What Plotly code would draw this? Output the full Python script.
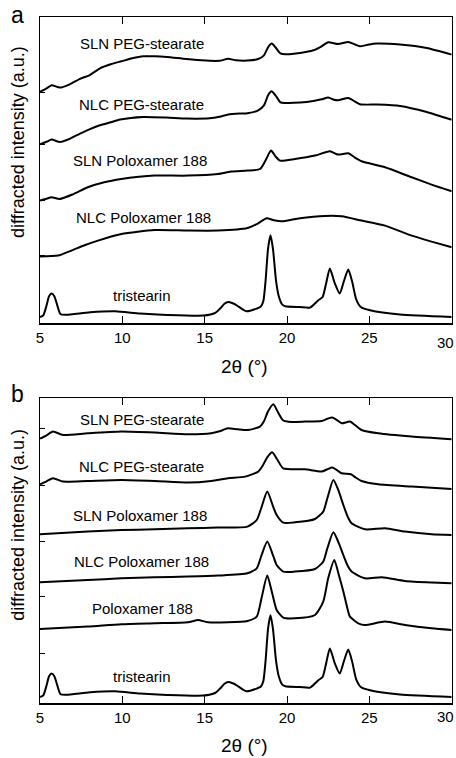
import plotly.graph_objects as go

# ---------------- data ----------------
# Panel a
a_sln_peg_x = [5, 5.4, 5.71, 6.2, 6.8, 7.43, 8.0, 8.64, 9.3, 9.94, 10.6, 11.27, 12.0, 12.7, 13.9, 15.3, 15.9, 16.43, 16.9, 17.6, 18.25, 18.6, 18.85, 19.07, 19.3, 19.6, 19.9, 20.79, 21.6, 22.1, 22.5, 23.1, 23.72, 24.1, 24.43, 24.9, 25.44, 26.86, 28.48, 30]
a_sln_peg_y = [231.5, 235, 238, 235.7, 239, 244.5, 248, 255, 259, 262, 265, 267, 267, 266.3, 264.3, 262.5, 262.5, 264.5, 263, 262.7, 264.3, 268, 276, 279.7, 276, 270, 269, 270.3, 273, 277, 281, 279.3, 281.3, 279, 277, 278.5, 279.7, 278.7, 275.3, 268.7]

a_nlc_peg_x = [5, 5.4, 5.71, 6.2, 6.8, 7.43, 8.0, 8.64, 9.3, 9.86, 11.27, 12.7, 13.9, 15.3, 15.9, 16.43, 17.14, 17.6, 18.25, 18.6, 18.85, 19.05, 19.3, 19.6, 19.9, 20.79, 21.6, 22.1, 22.5, 22.85, 23.1, 23.72, 24.1, 24.43, 25.44, 26.86, 28.48, 30]
a_nlc_peg_y = [179, 181.5, 183.7, 181.3, 184.5, 189.7, 194, 198, 201, 203.7, 206.3, 205.7, 204.7, 205, 206.5, 208.7, 209.7, 210, 213, 218, 228, 232, 228, 221, 220.3, 220.7, 222.3, 224, 225.7, 223.5, 223, 225.3, 222, 219, 218.7, 217.3, 211.3, 203.5]

a_sln_pol_x = [5, 5.4, 5.69, 6.2, 7.0, 7.9, 8.9, 9.94, 11.0, 11.96, 13.98, 15.8, 16.6, 17.6, 18.36, 18.7, 19.03, 19.3, 19.57, 20.48, 21.7, 22.6, 23.1, 23.72, 24.1, 24.53, 25.95, 27.57, 28.78, 30]
a_sln_pol_y = [122.7, 124.5, 126, 124.3, 129, 136, 141, 144.3, 146.5, 147.7, 147.7, 149.3, 151.7, 152.7, 154.3, 163, 172.7, 167, 162.7, 164.3, 167.7, 172, 168.7, 170, 166, 162, 156, 146, 138.7, 132]

a_nlc_pol_x = [5, 6.1, 6.9, 7.7, 8.52, 9.94, 11.96, 13.98, 15.8, 17.6, 18.25, 18.76, 19.2, 19.67, 20.68, 22.3, 23.32, 24.53, 25.95, 27.57, 28.78, 30]
a_nlc_pol_y = [66.7, 67.7, 72.7, 78, 82.7, 89.3, 93.3, 92.7, 92.7, 95.3, 100, 105, 103, 102, 104.7, 107.3, 107, 102.7, 97.7, 87.7, 81.7, 76]

# tristearin (same pattern in both panels)
tri_x = [5, 5.2, 5.4, 5.55, 5.71, 5.87, 6.05, 6.25, 6.6, 8.04, 9.55, 11.07, 12.7, 14.92, 15.63, 15.95, 16.2, 16.43, 16.7, 16.94, 17.3, 17.55, 18.16, 18.4, 18.56, 18.7, 18.85, 19.0, 19.15, 19.33, 19.5, 19.7, 19.9, 20.79, 21.4, 21.9, 22.16, 22.35, 22.6, 22.9, 23.2, 23.45, 23.72, 23.95, 24.2, 24.5, 25.04, 26.86, 30]
tri_y = [6.3, 8, 18, 27, 29.7, 27, 18, 9, 8.5, 11, 12, 9.7, 8.3, 7.7, 10.3, 15, 19.5, 21.3, 20, 18, 14, 12, 14.7, 16.5, 22, 43, 75, 88, 74, 43, 27, 19, 17, 16.3, 15.7, 23, 26.3, 38, 54.7, 40, 29.7, 42, 53.7, 42, 24, 16, 13, 8.7, 6.3]

# Panel b
b_sln_peg_x = [5, 5.4, 5.79, 6.4, 7.9, 9.94, 11.96, 13.98, 15.4, 15.9, 16.41, 17.0, 17.63, 18.36, 18.6, 18.85, 19.17, 19.45, 19.75, 20.1, 21.09, 22.1, 22.45, 22.75, 23.05, 23.32, 23.82, 24.15, 24.53, 25.54, 27.57, 30]
b_sln_peg_y = [264.7, 268, 271.7, 268.3, 270, 271.7, 270.7, 269, 270, 272, 275, 274, 273.3, 276.7, 282, 292, 299, 291, 283, 281.5, 281.7, 282.3, 284.5, 285.7, 283, 280, 281.7, 278, 273.3, 270, 266.7, 264]

b_nlc_peg_x = [5, 5.4, 5.79, 6.4, 7.9, 9.94, 11.96, 13.98, 15.4, 16.41, 17.45, 18.25, 18.5, 18.8, 19.1, 19.4, 19.77, 21.09, 22.1, 22.45, 22.75, 23.05, 23.32, 23.88, 24.15, 24.53, 25.54, 27.57, 30]
b_nlc_peg_y = [219, 222, 225, 221.7, 222.3, 223.3, 222.3, 220.7, 222.3, 225, 226.7, 231.7, 237, 246, 251, 244, 235, 234, 231.7, 234, 235.7, 233, 230, 229, 226, 222.3, 219, 216.7, 214.3]

b_sln_pol_x = [5, 7.9, 9.94, 11.96, 13.98, 15.8, 17.6, 18.16, 18.45, 18.8, 19.15, 19.37, 19.77, 20.48, 21.7, 22.2, 22.45, 22.81, 23.1, 23.42, 23.7, 23.92, 24.73, 25.95, 27.16, 28.78, 30]
b_sln_pol_y = [169, 171.7, 173.3, 174, 175, 175.7, 176.7, 183.3, 196, 211.7, 197, 188.3, 180.7, 181, 184.3, 191.7, 205, 223.3, 214, 198.3, 186, 180, 174, 175, 171.7, 169, 168.3]

b_nlc_pol_x = [5, 7.9, 9.94, 11.96, 13.98, 15.8, 17.6, 18.16, 18.45, 18.8, 19.15, 19.37, 19.77, 20.48, 21.7, 22.2, 22.45, 22.81, 23.1, 23.42, 23.7, 23.92, 24.73, 25.75, 27.16, 28.78, 30]
b_nlc_pol_y = [121, 123.3, 125, 126, 126.7, 127.7, 130, 135, 148, 161.7, 148, 138.3, 131.7, 131.7, 134.3, 141.7, 155, 171, 162, 148.3, 137, 131.7, 125, 126, 122.3, 120.7, 120]

b_pol_x = [5, 7.9, 9.94, 11.96, 13.98, 14.6, 15.2, 17.6, 18.16, 18.45, 18.8, 19.1, 19.37, 19.77, 20.48, 21.7, 22.2, 22.5, 22.87, 23.15, 23.42, 23.65, 23.82, 24.33, 24.73, 25.95, 27.16, 28.78, 30]
b_pol_y = [74.3, 76.7, 79, 80, 81, 83.3, 81, 82.3, 86.7, 105, 127.7, 110, 93.3, 85.7, 85, 88.3, 101.7, 125, 143.3, 128, 111.7, 96, 86.7, 80, 78.3, 81.7, 78.3, 75, 73.3]

# labels
a_labels = ["SLN PEG-stearate", "NLC PEG-stearate", "SLN Poloxamer 188", "NLC Poloxamer 188", "tristearin"]
a_label_x = [11.17, 11.17, 11.07, 11.31, 11.17]
a_label_y = [279.7, 219.0, 162.5, 105.5, 28.0]
b_labels = ["SLN PEG-stearate", "NLC PEG-stearate", "SLN Poloxamer 188", "NLC Poloxamer 188", "Poloxamer 188", "tristearin"]
b_label_x = [11.17, 11.17, 11.07, 11.17, 11.24, 11.17]
b_label_y = [283.7, 237.3, 188.0, 141.5, 94.5, 27.0]

x_ticks = [5, 10, 15, 20, 25, 30]
x_ticktext = ["5", "10", "15", "20", "25", ""]   # "30" drawn separately so it stays inside the page
a_yticks = [67.7, 122.7, 179.3, 231.0]
b_yticks = [50.0, 106.7, 161.7, 218.3, 275.0]

# ---------------- figure ----------------
W, H = 456, 758
FONT = "Liberation Sans, Arial, Helvetica, sans-serif"

def px(x):
    return x / W

def py(y):
    return 1 - y / H

fig = go.Figure()
line = dict(color="black", width=2, shape="spline", smoothing=0.6)

for xs, ys in [(a_sln_peg_x, a_sln_peg_y), (a_nlc_peg_x, a_nlc_peg_y),
               (a_sln_pol_x, a_sln_pol_y), (a_nlc_pol_x, a_nlc_pol_y),
               (tri_x, tri_y)]:
    fig.add_trace(go.Scatter(x=xs, y=ys, mode="lines", line=line,
                             xaxis="x", yaxis="y", showlegend=False, hoverinfo="skip"))

for xs, ys in [(b_sln_peg_x, b_sln_peg_y), (b_nlc_peg_x, b_nlc_peg_y),
               (b_sln_pol_x, b_sln_pol_y), (b_nlc_pol_x, b_nlc_pol_y),
               (b_pol_x, b_pol_y), (tri_x, tri_y)]:
    fig.add_trace(go.Scatter(x=xs, y=ys, mode="lines", line=line,
                             xaxis="x2", yaxis="y2", showlegend=False, hoverinfo="skip"))

xdom = [px(40), px(451.7)]
xcommon = dict(range=[5, 30], domain=xdom, showline=True, linecolor="black", linewidth=1.5,
               mirror="ticks", ticks="inside", ticklen=7, tickwidth=1, tickcolor="black",
               tickvals=x_ticks, ticktext=x_ticktext, automargin=False,
               tickfont=dict(family=FONT, size=15, color="black"),
               showgrid=False, zeroline=False, fixedrange=True)
ycommon = dict(showline=True, linecolor="black", linewidth=1.5, mirror=True,
               ticks="inside", ticklen=5, tickwidth=1, tickcolor="black", automargin=False,
               showticklabels=False, showgrid=False, zeroline=False, fixedrange=True)

fig.update_layout(
    template="none",
    width=W, height=H,
    margin=dict(l=0, r=0, t=0, b=0, pad=0),
    paper_bgcolor="white", plot_bgcolor="white",
    xaxis=dict(**xcommon, anchor="y"),
    yaxis=dict(**ycommon, range=[0, 306], domain=[py(323.3), py(17.3)], anchor="x",
               tickvals=a_yticks),
    xaxis2=dict(**xcommon, anchor="y2"),
    yaxis2=dict(**ycommon, range=[0, 305], domain=[py(703.3), py(398.3)], anchor="x2",
                tickvals=b_yticks),
    font=dict(family=FONT, color="black"),
)

ann = []
for t, xv, yv in zip(a_labels, a_label_x, a_label_y):
    ann.append(dict(text=t, x=xv, y=yv, xref="x", yref="y", showarrow=False,
                    xanchor="center", yanchor="middle", font=dict(family=FONT, size=15)))
for t, xv, yv in zip(b_labels, b_label_x, b_label_y):
    ann.append(dict(text=t, x=xv, y=yv, xref="x2", yref="y2", showarrow=False,
                    xanchor="center", yanchor="middle", font=dict(family=FONT, size=15)))

for ytxt in [142, 524.7]:
    ann.append(dict(text="diffracted intensity (a.u.)", x=px(18), y=py(ytxt), xref="paper",
                    yref="paper", showarrow=False, textangle=-90, xanchor="center",
                    yanchor="middle", font=dict(family=FONT, size=18)))
for ytxt in [366, 745]:
    ann.append(dict(text="2θ (°)", x=px(245), y=py(ytxt), xref="paper", yref="paper",
                    showarrow=False, xanchor="center", yanchor="middle",
                    font=dict(family=FONT, size=19)))
# "30" tick labels, right-aligned at the page edge
for ytxt in [342.5, 716.5]:
    ann.append(dict(text="30", x=1, y=py(ytxt), xref="paper", yref="paper",
                    showarrow=False, xanchor="right", yanchor="middle",
                    font=dict(family=FONT, size=15)))
ann.append(dict(text="a", x=px(17), y=1, xref="paper", yref="paper", showarrow=False,
                xanchor="center", yanchor="top", font=dict(family=FONT, size=23)))
ann.append(dict(text="b", x=px(17), y=py(394), xref="paper", yref="paper", showarrow=False,
                xanchor="center", yanchor="middle", font=dict(family=FONT, size=23)))

fig.update_layout(annotations=ann)
fig.write_html(
    "out.html",
    config={"displayModeBar": False, "staticPlot": True},
    post_script="document.body.style.margin='0';document.documentElement.style.overflow='hidden';",
)
